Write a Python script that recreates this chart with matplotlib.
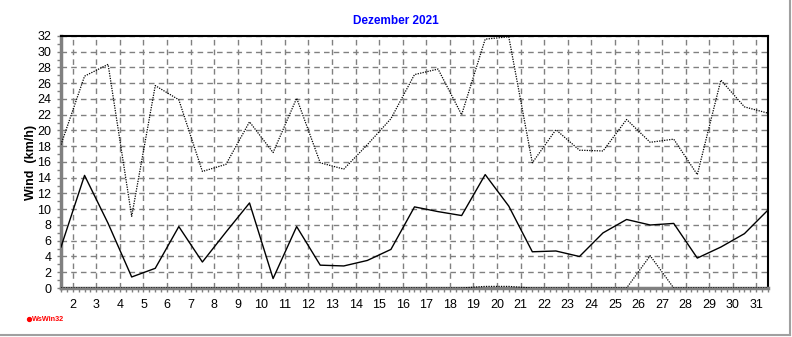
import matplotlib
matplotlib.use("Agg")
import matplotlib.pyplot as plt
from matplotlib.ticker import MultipleLocator
from matplotlib.lines import Line2D

plt.rcParams['font.family'] = ['Liberation Sans', 'DejaVu Sans']

days = list(range(1, 32))
wind_max = [18.2, 26.9, 28.4, 9.1, 25.7, 23.9, 14.8, 15.7, 21.1, 17.2,
            24.1, 15.9, 15.1, 18.2, 21.5, 27.1, 27.8, 22.0, 31.6, 31.9,
            15.9, 20.1, 17.5, 17.4, 21.4, 18.5, 18.9, 14.4, 26.4, 23.0, 22.2]
wind_avg = [5.2, 14.3, 8.2, 1.4, 2.5, 7.8, 3.3, 7.1, 10.8, 1.2,
            7.8, 2.9, 2.8, 3.5, 4.9, 10.3, 9.7, 9.2, 14.4, 10.4,
            4.6, 4.7, 4.0, 7.0, 8.7, 8.0, 8.2, 3.8, 5.2, 6.9, 9.9]
wind_min = [0, 0, 0, 0, 0, 0, 0, 0, 0, 0,
            0, 0, 0, 0, 0, 0, 0, 0, 0.2, 0.2,
            0, 0, 0, 0, 0, 4.1, 0, 0, 0, 0, 0]
xtick_labels = [str(d) for d in range(2, 32)]

fig = plt.figure(figsize=(7.92, 3.37), dpi=100)
ax = fig.add_axes([0.077, 0.1454, 0.8927, 0.7478])

# Tageswerte in der Tagesmitte
x = [d + 0.5 for d in days]
ax.plot(x, wind_min, color='black', lw=0.9, ls=(0, (1, 1)), zorder=3)
ax.plot(x, wind_max, color='black', lw=0.9, ls=(0, (1, 1)), zorder=3)
ax.plot(x, wind_avg, color='black', lw=1.0, zorder=4)

ax.set_xlim(1.5, 31.5)
ax.set_ylim(0, 32)
ax.set_xticks(range(2, 32))
ax.set_xticklabels(xtick_labels)
ax.xaxis.set_minor_locator(MultipleLocator(0.25))
ax.yaxis.set_major_locator(MultipleLocator(2))
ax.yaxis.set_minor_locator(MultipleLocator(1))

ax.grid(True, which='major', color='#808080', ls=(0, (4, 3)), lw=1.0)
ax.set_axisbelow(True)

ax.tick_params(axis='both', which='major', length=3, width=1, color='#808080',
               labelsize=9, pad=4)
ax.tick_params(axis='both', which='minor', length=3, width=1, color='#808080')
ax.tick_params(axis='x', which='major', pad=5)

for s in ['left', 'bottom']:
    ax.spines[s].set_color('#808080')
    ax.spines[s].set_linewidth(2.5)
for s in ['top', 'right']:
    ax.spines[s].set_color('black')
    ax.spines[s].set_linewidth(1.5)

ax.set_ylabel('Wind  (km/h)', fontsize=9, fontweight='bold')
ax.yaxis.set_label_coords(-0.034, 0.5)
fig.text(0.5, 0.937, 'Dezember 2021', color='#0000ff', fontsize=8.5,
         fontweight='bold', ha='center', va='center')

fig.text(0.041, 0.053, 'WsWin32', color='red', fontsize=5.2, fontweight='bold',
         va='center', ha='left')
fig.add_artist(Line2D([0.0366], [0.053], marker='o', ms=2.8, color='red',
                      transform=fig.transFigure))

# Rahmen rechts und unten
fig.add_artist(Line2D([0.997, 0.997], [0.005, 1.0], color='#a0a0a0', lw=1.5,
                      transform=fig.transFigure))
fig.add_artist(Line2D([0.0, 0.997], [0.005, 0.005], color='#a0a0a0', lw=1.5,
                      transform=fig.transFigure))

fig.savefig('out.png', dpi=100)
